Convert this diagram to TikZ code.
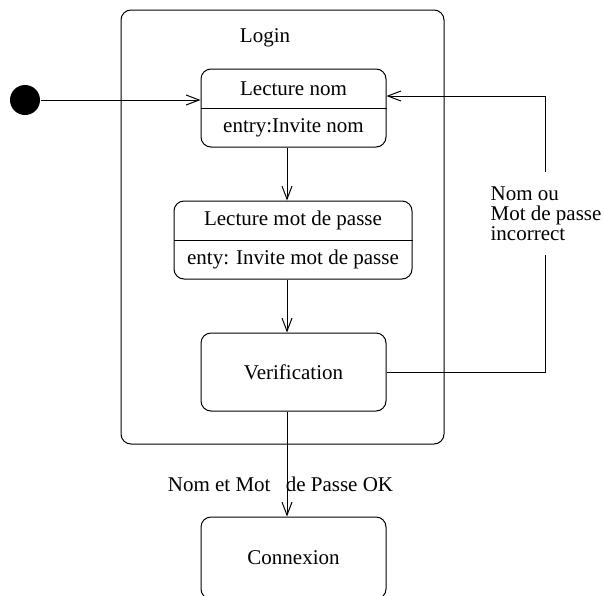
\documentclass[tikz,border=0pt]{standalone}
\usepackage{fontspec}
\setmainfont{Liberation Serif}
\usetikzlibrary{calc, arrows.meta}

\tikzset{
  state/.style={draw, rounded corners=5pt, minimum width=92.5pt, minimum height=39pt, inner sep=0pt},
  start/.style={circle, fill, minimum size=15pt, inner sep=0pt}
}

\begin{document}
\begin{tikzpicture}[x=0.5pt, y=-0.5pt, line width=0.5pt,
    >={Straight Barb[length=6.5pt,width=5pt]},
    font=\fontsize{10.5}{10}\selectfont]
  \useasboundingbox (0,0) rectangle (604,595);
  % composite state
  \node[state, minimum width=161.5pt, minimum height=217pt] (login) at (282.5,227) {};
  \node (logintitle) at (265,38) {Login};
  % states
  \node[start] (init) at (25,100) {};
  \node[state] (lnom) at (293.5,108) {};
  \node[state, minimum width=119pt] (lmdp) at (293,240) {};
  \node[state] (verif) at (293.5,372) {Verification};
  \node[state, minimum height=41pt] (conn) at (293.5,558) {Connexion};
  % compartments
  \draw (lnom.west) -- (lnom.east);
  \draw (lmdp.west) -- (lmdp.east);
  \node (lnomname) at (293.5,88.5) {Lecture nom};
  \node (lnomentry) at (293.5,128) {entry:Invite nom};
  \node (lmdpname) at (293,220.5) {Lecture mot de passe};
  \node (lmdpentry) at (293,259) {enty: Invite mot de passe};
  % transitions
  \coordinate (spine) at (287,0);
  \draw[->] (init) -- (init -| lnom.west);
  \draw[->] (lnom.south -| spine) -- (lmdp.north -| spine);
  \draw[->] (lmdp.south -| spine) -- (verif.north -| spine);
  \draw[->] (verif.south -| spine) -- node[pos=0.69, xshift=-3.25pt] (oklabel) {Nom et Mot\hspace{5pt} de Passe OK} (conn.north -| spine);
  % back to Lecture nom
  \coordinate (back) at (545,96);
  \draw (verif.east) -| (back);
  \draw[->] (back) -- (back -| lnom.east);
  \node[fill=white, align=left, inner xsep=0pt, minimum height=41.5pt] (kolabel) at (546,213.5) {Nom ou\\Mot de passe\\incorrect};
\end{tikzpicture}
\end{document}
